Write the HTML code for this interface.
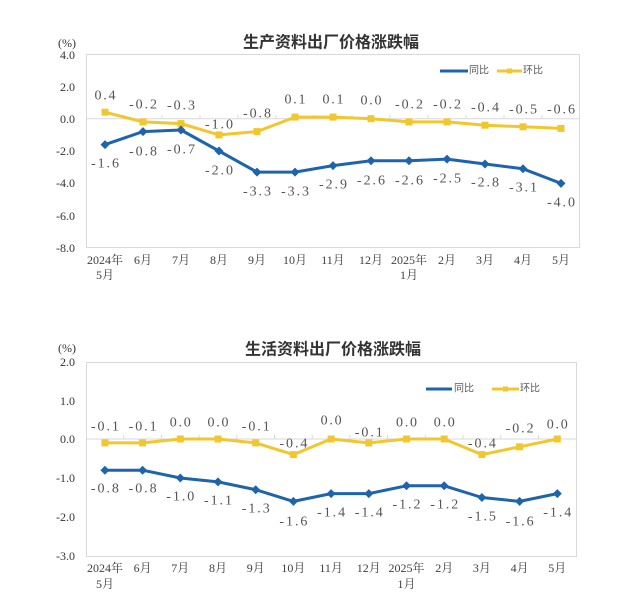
<!DOCTYPE html>
<html><head><meta charset="utf-8"><style>
html,body{margin:0;padding:0;background:#fff;}
svg{display:block;}
.t{font-family:"Liberation Sans","Noto Sans CJK SC",sans-serif;font-size:16px;font-weight:bold;fill:#333;}
.ax{font-family:"Liberation Serif","Noto Serif CJK SC",serif;font-size:12px;fill:#333;}
.xl{font-family:"Liberation Serif","Noto Serif CJK SC",serif;font-size:12px;fill:#404040;}
.dl{font-family:"Liberation Serif","Noto Serif CJK SC",serif;font-size:14px;fill:#555;}
.lg{font-family:"Liberation Sans","Noto Sans CJK SC",sans-serif;font-size:10px;fill:#595959;}
</style></head><body>
<svg width="640" height="613" viewBox="0 0 640 613" xmlns="http://www.w3.org/2000/svg">
<rect width="640" height="613" fill="#fff"/>

<!-- ============ CHART 1 ============ -->
<text class="t" x="331" y="43" text-anchor="middle" dominant-baseline="central">生产资料出厂价格涨跌幅</text>
<text class="ax" x="67" y="43" text-anchor="middle" dominant-baseline="central" font-size="11">(%)</text>
<rect x="86.5" y="54.5" width="493" height="193" fill="none" stroke="#d9d9d9" stroke-width="1"/>
<line x1="86" y1="118.7" x2="579" y2="118.7" stroke="#d9d9d9" stroke-width="1"/>
<g stroke="#d9d9d9" stroke-width="1">
<line x1="124" y1="115" x2="124" y2="119"/><line x1="162" y1="115" x2="162" y2="119"/><line x1="200" y1="115" x2="200" y2="119"/><line x1="238" y1="115" x2="238" y2="119"/><line x1="276" y1="115" x2="276" y2="119"/><line x1="314" y1="115" x2="314" y2="119"/><line x1="352" y1="115" x2="352" y2="119"/><line x1="390" y1="115" x2="390" y2="119"/><line x1="428" y1="115" x2="428" y2="119"/><line x1="466" y1="115" x2="466" y2="119"/><line x1="504" y1="115" x2="504" y2="119"/><line x1="542" y1="115" x2="542" y2="119"/>
</g>
<g text-anchor="end" dominant-baseline="central">
<text class="ax" x="75" y="55">4.0</text>
<text class="ax" x="75" y="87">2.0</text>
<text class="ax" x="75" y="119">0.0</text>
<text class="ax" x="75" y="151">-2.0</text>
<text class="ax" x="75" y="183">-4.0</text>
<text class="ax" x="75" y="216">-6.0</text>
<text class="ax" x="75" y="248">-8.0</text>
</g>
<g text-anchor="middle" dominant-baseline="central">
<text class="xl" x="105" y="260">2024年</text><text class="xl" x="105" y="275">5月</text>
<text class="xl" x="143" y="260">6月</text>
<text class="xl" x="181" y="260">7月</text>
<text class="xl" x="219" y="260">8月</text>
<text class="xl" x="257" y="260">9月</text>
<text class="xl" x="295" y="260">10月</text>
<text class="xl" x="333" y="260">11月</text>
<text class="xl" x="371" y="260">12月</text>
<text class="xl" x="409" y="260">2025年</text><text class="xl" x="409" y="275">1月</text>
<text class="xl" x="447" y="260">2月</text>
<text class="xl" x="485" y="260">3月</text>
<text class="xl" x="523" y="260">4月</text>
<text class="xl" x="561" y="260">5月</text>
</g>
<!-- legend -->
<line x1="440" y1="71" x2="468" y2="71" stroke="#1e64ad" stroke-width="3"/>
<text class="lg" x="469" y="71" dominant-baseline="central">同比</text>
<line x1="497" y1="71" x2="522" y2="71" stroke="#f2c72e" stroke-width="3"/>
<rect x="507" y="68.5" width="5" height="5" fill="#f2c72e"/>
<text class="lg" x="523" y="71" dominant-baseline="central">环比</text>
<!-- yellow series -->
<polyline fill="none" stroke="#f2c72e" stroke-width="3" stroke-linejoin="round" points="105,112.2 143,121.9 181,123.6 219,134.9 257,131.6 295,117.1 333,117.1 371,118.7 409,121.9 447,121.9 485,125.2 523,126.8 561,128.4"/>
<g fill="#f2c72e">
<rect x="101.5" y="108.7" width="7" height="7"/><rect x="139.5" y="118.4" width="7" height="7"/><rect x="177.5" y="120.1" width="7" height="7"/><rect x="215.5" y="131.4" width="7" height="7"/><rect x="253.5" y="128.1" width="7" height="7"/><rect x="291.5" y="113.6" width="7" height="7"/><rect x="329.5" y="113.6" width="7" height="7"/><rect x="367.5" y="115.2" width="7" height="7"/><rect x="405.5" y="118.4" width="7" height="7"/><rect x="443.5" y="118.4" width="7" height="7"/><rect x="481.5" y="121.7" width="7" height="7"/><rect x="519.5" y="123.3" width="7" height="7"/><rect x="557.5" y="124.9" width="7" height="7"/>
</g>
<!-- blue series -->
<polyline fill="none" stroke="#1e64ad" stroke-width="3" stroke-linejoin="round" points="105,144.6 143,131.6 181,130.0 219,151.0 257,172.1 295,172.1 333,165.6 371,160.7 409,160.7 447,159.1 485,164.0 523,168.8 561,183.4"/>
<g fill="#1e64ad">
<path d="M105,140.1l4.5,4.5l-4.5,4.5l-4.5,-4.5z"/><path d="M143,127.1l4.5,4.5l-4.5,4.5l-4.5,-4.5z"/><path d="M181,125.5l4.5,4.5l-4.5,4.5l-4.5,-4.5z"/><path d="M219,146.5l4.5,4.5l-4.5,4.5l-4.5,-4.5z"/><path d="M257,167.6l4.5,4.5l-4.5,4.5l-4.5,-4.5z"/><path d="M295,167.6l4.5,4.5l-4.5,4.5l-4.5,-4.5z"/><path d="M333,161.1l4.5,4.5l-4.5,4.5l-4.5,-4.5z"/><path d="M371,156.2l4.5,4.5l-4.5,4.5l-4.5,-4.5z"/><path d="M409,156.2l4.5,4.5l-4.5,4.5l-4.5,-4.5z"/><path d="M447,154.6l4.5,4.5l-4.5,4.5l-4.5,-4.5z"/><path d="M485,159.5l4.5,4.5l-4.5,4.5l-4.5,-4.5z"/><path d="M523,164.3l4.5,4.5l-4.5,4.5l-4.5,-4.5z"/><path d="M561,178.9l4.5,4.5l-4.5,4.5l-4.5,-4.5z"/>
</g>
<g text-anchor="middle" dominant-baseline="central">
<text class="dl" x="105" y="96" textLength="21" lengthAdjust="spacing">0.4</text>
<text class="dl" x="143" y="105" textLength="28" lengthAdjust="spacing">-0.2</text>
<text class="dl" x="181" y="106" textLength="28" lengthAdjust="spacing">-0.3</text>
<text class="dl" x="219" y="125" textLength="28" lengthAdjust="spacing">-1.0</text>
<text class="dl" x="257" y="114" textLength="28" lengthAdjust="spacing">-0.8</text>
<text class="dl" x="295" y="100" textLength="21" lengthAdjust="spacing">0.1</text>
<text class="dl" x="333" y="100" textLength="21" lengthAdjust="spacing">0.1</text>
<text class="dl" x="371" y="101" textLength="21" lengthAdjust="spacing">0.0</text>
<text class="dl" x="409" y="105" textLength="28" lengthAdjust="spacing">-0.2</text>
<text class="dl" x="447" y="105" textLength="28" lengthAdjust="spacing">-0.2</text>
<text class="dl" x="485" y="108" textLength="28" lengthAdjust="spacing">-0.4</text>
<text class="dl" x="523" y="110" textLength="28" lengthAdjust="spacing">-0.5</text>
<text class="dl" x="561" y="110" textLength="28" lengthAdjust="spacing">-0.6</text>
<text class="dl" x="105" y="164" textLength="28" lengthAdjust="spacing">-1.6</text>
<text class="dl" x="143" y="152" textLength="28" lengthAdjust="spacing">-0.8</text>
<text class="dl" x="181" y="150" textLength="28" lengthAdjust="spacing">-0.7</text>
<text class="dl" x="219" y="171" textLength="28" lengthAdjust="spacing">-2.0</text>
<text class="dl" x="257" y="192" textLength="28" lengthAdjust="spacing">-3.3</text>
<text class="dl" x="295" y="192" textLength="28" lengthAdjust="spacing">-3.3</text>
<text class="dl" x="333" y="185" textLength="28" lengthAdjust="spacing">-2.9</text>
<text class="dl" x="371" y="181" textLength="28" lengthAdjust="spacing">-2.6</text>
<text class="dl" x="409" y="181" textLength="28" lengthAdjust="spacing">-2.6</text>
<text class="dl" x="447" y="179" textLength="28" lengthAdjust="spacing">-2.5</text>
<text class="dl" x="485" y="183" textLength="28" lengthAdjust="spacing">-2.8</text>
<text class="dl" x="523" y="188" textLength="28" lengthAdjust="spacing">-3.1</text>
<text class="dl" x="561" y="203" textLength="28" lengthAdjust="spacing">-4.0</text>
</g>

<!-- ============ CHART 2 ============ -->
<text class="t" x="333" y="350" text-anchor="middle" dominant-baseline="central">生活资料出厂价格涨跌幅</text>
<text class="ax" x="67" y="348" text-anchor="middle" dominant-baseline="central" font-size="11">(%)</text>
<rect x="86.5" y="362.5" width="490" height="194" fill="none" stroke="#d9d9d9" stroke-width="1"/>
<line x1="86" y1="439" x2="576" y2="439" stroke="#d9d9d9" stroke-width="1"/>
<g stroke="#d9d9d9" stroke-width="1">
<line x1="123.7" y1="435" x2="123.7" y2="439"/><line x1="161.4" y1="435" x2="161.4" y2="439"/><line x1="199.1" y1="435" x2="199.1" y2="439"/><line x1="236.8" y1="435" x2="236.8" y2="439"/><line x1="274.5" y1="435" x2="274.5" y2="439"/><line x1="312.2" y1="435" x2="312.2" y2="439"/><line x1="349.9" y1="435" x2="349.9" y2="439"/><line x1="387.6" y1="435" x2="387.6" y2="439"/><line x1="425.3" y1="435" x2="425.3" y2="439"/><line x1="463" y1="435" x2="463" y2="439"/><line x1="500.7" y1="435" x2="500.7" y2="439"/><line x1="538.4" y1="435" x2="538.4" y2="439"/>
</g>
<g text-anchor="end" dominant-baseline="central">
<text class="ax" x="75" y="362">2.0</text>
<text class="ax" x="75" y="401">1.0</text>
<text class="ax" x="75" y="439">0.0</text>
<text class="ax" x="75" y="478">-1.0</text>
<text class="ax" x="75" y="517">-2.0</text>
<text class="ax" x="75" y="556">-3.0</text>
</g>
<g text-anchor="middle" dominant-baseline="central">
<text class="xl" x="105" y="568">2024年</text><text class="xl" x="105" y="584">5月</text>
<text class="xl" x="142.6" y="568">6月</text>
<text class="xl" x="180.3" y="568">7月</text>
<text class="xl" x="218" y="568">8月</text>
<text class="xl" x="255.7" y="568">9月</text>
<text class="xl" x="293.4" y="568">10月</text>
<text class="xl" x="331.1" y="568">11月</text>
<text class="xl" x="368.8" y="568">12月</text>
<text class="xl" x="406.5" y="568">2025年</text><text class="xl" x="406.5" y="584">1月</text>
<text class="xl" x="444.2" y="568">2月</text>
<text class="xl" x="481.9" y="568">3月</text>
<text class="xl" x="519.6" y="568">4月</text>
<text class="xl" x="557.3" y="568">5月</text>
</g>
<!-- legend -->
<line x1="426" y1="389" x2="452" y2="389" stroke="#1e64ad" stroke-width="3"/>
<text class="lg" x="454" y="389" dominant-baseline="central">同比</text>
<line x1="492" y1="389" x2="519" y2="389" stroke="#f2c72e" stroke-width="3"/>
<rect x="503" y="386.5" width="5" height="5" fill="#f2c72e"/>
<text class="lg" x="520" y="389" dominant-baseline="central">环比</text>
<!-- yellow series -->
<polyline fill="none" stroke="#f2c72e" stroke-width="3" stroke-linejoin="round" points="104.9,442.9 142.6,442.9 180.3,439 218,439 255.7,442.9 293.4,454.6 331.1,439 368.8,442.9 406.5,439 444.2,439 481.9,454.6 519.6,446.8 557.3,439"/>
<g fill="#f2c72e">
<rect x="101.4" y="439.4" width="7" height="7"/><rect x="139.1" y="439.4" width="7" height="7"/><rect x="176.8" y="435.5" width="7" height="7"/><rect x="214.5" y="435.5" width="7" height="7"/><rect x="252.2" y="439.4" width="7" height="7"/><rect x="289.9" y="451.1" width="7" height="7"/><rect x="327.6" y="435.5" width="7" height="7"/><rect x="365.3" y="439.4" width="7" height="7"/><rect x="403" y="435.5" width="7" height="7"/><rect x="440.7" y="435.5" width="7" height="7"/><rect x="478.4" y="451.1" width="7" height="7"/><rect x="516.1" y="443.3" width="7" height="7"/><rect x="553.8" y="435.5" width="7" height="7"/>
</g>
<!-- blue series -->
<polyline fill="none" stroke="#1e64ad" stroke-width="3" stroke-linejoin="round" points="104.9,470.2 142.6,470.2 180.3,478 218,481.9 255.7,489.7 293.4,501.4 331.1,493.6 368.8,493.6 406.5,485.8 444.2,485.8 481.9,497.5 519.6,501.4 557.3,493.6"/>
<g fill="#1e64ad">
<path d="M104.9,465.7l4.5,4.5l-4.5,4.5l-4.5,-4.5z"/><path d="M142.6,465.7l4.5,4.5l-4.5,4.5l-4.5,-4.5z"/><path d="M180.3,473.5l4.5,4.5l-4.5,4.5l-4.5,-4.5z"/><path d="M218,477.4l4.5,4.5l-4.5,4.5l-4.5,-4.5z"/><path d="M255.7,485.2l4.5,4.5l-4.5,4.5l-4.5,-4.5z"/><path d="M293.4,496.9l4.5,4.5l-4.5,4.5l-4.5,-4.5z"/><path d="M331.1,489.1l4.5,4.5l-4.5,4.5l-4.5,-4.5z"/><path d="M368.8,489.1l4.5,4.5l-4.5,4.5l-4.5,-4.5z"/><path d="M406.5,481.3l4.5,4.5l-4.5,4.5l-4.5,-4.5z"/><path d="M444.2,481.3l4.5,4.5l-4.5,4.5l-4.5,-4.5z"/><path d="M481.9,493l4.5,4.5l-4.5,4.5l-4.5,-4.5z"/><path d="M519.6,496.9l4.5,4.5l-4.5,4.5l-4.5,-4.5z"/><path d="M557.3,489.1l4.5,4.5l-4.5,4.5l-4.5,-4.5z"/>
</g>
<g text-anchor="middle" dominant-baseline="central">
<text class="dl" x="104.9" y="427" textLength="28" lengthAdjust="spacing">-0.1</text>
<text class="dl" x="142.6" y="427" textLength="28" lengthAdjust="spacing">-0.1</text>
<text class="dl" x="180.3" y="423" textLength="21" lengthAdjust="spacing">0.0</text>
<text class="dl" x="218" y="423" textLength="21" lengthAdjust="spacing">0.0</text>
<text class="dl" x="255.7" y="427" textLength="28" lengthAdjust="spacing">-0.1</text>
<text class="dl" x="293.4" y="444" textLength="28" lengthAdjust="spacing">-0.4</text>
<text class="dl" x="331.1" y="421" textLength="21" lengthAdjust="spacing">0.0</text>
<text class="dl" x="368.8" y="433" textLength="28" lengthAdjust="spacing">-0.1</text>
<text class="dl" x="406.5" y="423" textLength="21" lengthAdjust="spacing">0.0</text>
<text class="dl" x="444.2" y="423" textLength="21" lengthAdjust="spacing">0.0</text>
<text class="dl" x="481.9" y="444" textLength="28" lengthAdjust="spacing">-0.4</text>
<text class="dl" x="519.6" y="429" textLength="28" lengthAdjust="spacing">-0.2</text>
<text class="dl" x="557.3" y="425" textLength="21" lengthAdjust="spacing">0.0</text>
<text class="dl" x="104.9" y="489" textLength="28" lengthAdjust="spacing">-0.8</text>
<text class="dl" x="142.6" y="489" textLength="28" lengthAdjust="spacing">-0.8</text>
<text class="dl" x="180.3" y="497" textLength="28" lengthAdjust="spacing">-1.0</text>
<text class="dl" x="218" y="501" textLength="28" lengthAdjust="spacing">-1.1</text>
<text class="dl" x="255.7" y="509" textLength="28" lengthAdjust="spacing">-1.3</text>
<text class="dl" x="293.4" y="522" textLength="28" lengthAdjust="spacing">-1.6</text>
<text class="dl" x="331.1" y="513" textLength="28" lengthAdjust="spacing">-1.4</text>
<text class="dl" x="368.8" y="513" textLength="28" lengthAdjust="spacing">-1.4</text>
<text class="dl" x="406.5" y="505" textLength="28" lengthAdjust="spacing">-1.2</text>
<text class="dl" x="444.2" y="505" textLength="28" lengthAdjust="spacing">-1.2</text>
<text class="dl" x="481.9" y="517" textLength="28" lengthAdjust="spacing">-1.5</text>
<text class="dl" x="519.6" y="522" textLength="28" lengthAdjust="spacing">-1.6</text>
<text class="dl" x="557.3" y="513" textLength="28" lengthAdjust="spacing">-1.4</text>
</g>
</svg>
</body></html>
